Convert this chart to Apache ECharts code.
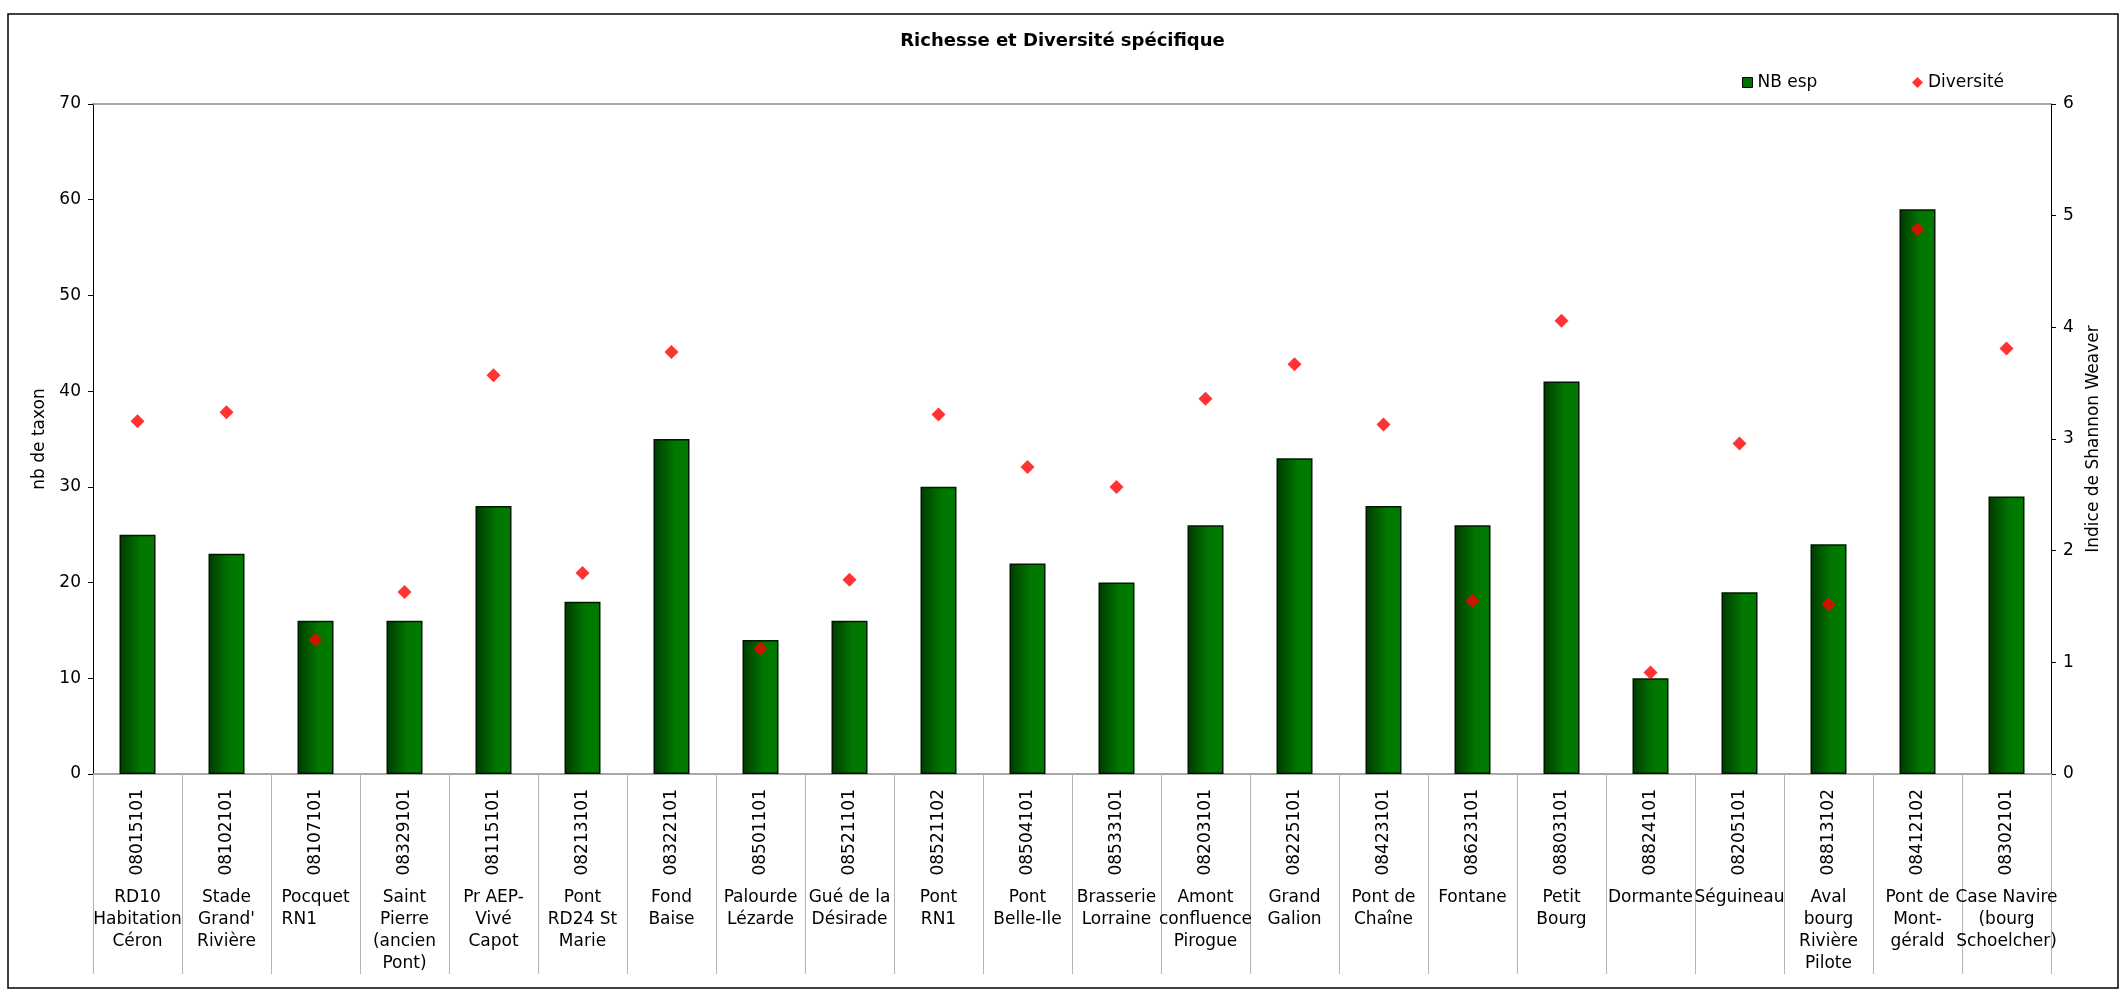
<!DOCTYPE html>
<html>
<head>
<meta charset="utf-8">
<title>Richesse et Diversité spécifique</title>
<script src="https://cdn.jsdelivr.net/npm/echarts@6/dist/echarts.min.js"></script>
<style>
  html, body { margin: 0; padding: 0; background: #fff; }
  #chart { width: 2125px; height: 990px; }
</style>
</head>
<body>
<div id="chart"></div>
<script>
// Station codes (first label row, rotated)
const stationCodes = [
  '08015101', '08102101', '08107101', '08329101', '08115101', '08213101',
  '08322101', '08501101', '08521101', '08521102', '08504101', '08533101',
  '08203101', '08225101', '08423101', '08623101', '08803101', '08824101',
  '08205101', '08813102', '08412102', '08302101'
];

// Station names (second label row, wrapped as printed)
const stationNames = [
  'RD10\nHabitation\nCéron', 'Stade\nGrand\'\nRivière', 'Pocquet\nRN1      ',
  'Saint\nPierre\n(ancien\nPont)', 'Pr AEP-\nVivé\nCapot', 'Pont\nRD24 St\nMarie',
  'Fond\nBaise', 'Palourde\nLézarde', 'Gué de la\nDésirade', 'Pont\nRN1',
  'Pont\nBelle-Ile', 'Brasserie\nLorraine', 'Amont\nconfluence\nPirogue',
  'Grand\nGalion', 'Pont de\nChaîne', 'Fontane', 'Petit\nBourg', 'Dormante',
  'Séguineau', 'Aval\nbourg\nRivière\nPilote', 'Pont de\nMont-\ngérald',
  'Case Navire\n(bourg\nSchoelcher)'
];

// Number of taxa per station
const nbEsp = [25, 23, 16, 16, 28, 18, 35, 14, 16, 30, 22, 20, 26, 33, 28, 26, 41, 10, 19, 24, 59, 29];

// Shannon-Weaver diversity index per station
const diversite = [3.16, 3.24, 1.20, 1.63, 3.57, 1.80, 3.78, 1.12, 1.74, 3.22, 2.75, 2.57,
                   3.36, 3.67, 3.13, 1.55, 4.06, 0.91, 2.96, 1.52, 4.88, 3.81];

const FONT = 'DejaVu Sans';

const chart = echarts.init(document.getElementById('chart'), null, { renderer: 'canvas' });

const barFill = new echarts.graphic.LinearGradient(0, 0, 1, 0, [
  { offset: 0, color: '#003a00' },
  { offset: 0.6, color: '#007800' },
  { offset: 1, color: '#007a00' }
]);

chart.setOption({
  backgroundColor: '#ffffff',
  animation: false,
  textStyle: { fontFamily: FONT, color: '#000' },
  title: {
    text: 'Richesse et Diversité spécifique',
    left: 'center',
    top: 27,
    textStyle: { fontFamily: FONT, fontSize: 18, fontWeight: 'bold', color: '#000' }
  },
  legend: [
    {
      data: [{ name: 'NB esp', icon: 'rect', itemStyle: { color: '#007000', borderColor: '#000', borderWidth: 1 } }],
      left: 1737, top: 69,
      itemWidth: 10, itemHeight: 10,
      textStyle: { fontFamily: FONT, fontSize: 17, color: '#000' }
    },
    {
      data: [{ name: 'Diversité', icon: 'diamond' }],
      left: 1907, top: 69,
      itemWidth: 11, itemHeight: 11,
      textStyle: { fontFamily: FONT, fontSize: 17, color: '#000' }
    }
  ],
  grid: { left: 93, right: 74, top: 104, bottom: 216, containLabel: false },
  xAxis: [
    {
      type: 'category',
      data: stationCodes,
      position: 'bottom',
      boundaryGap: true,
      axisLine: { show: true, lineStyle: { color: '#8c8c8c', width: 1.5 } },
      axisTick: { show: true, interval: 0, length: 200, lineStyle: { color: '#b4b4b4', width: 1 } },
      axisLabel: { interval: 0, rotate: 90, margin: 15, fontFamily: FONT, fontSize: 17, color: '#000' }
    },
    {
      type: 'category',
      data: stationNames,
      position: 'bottom',
      boundaryGap: true,
      axisLine: { show: false },
      axisTick: { show: false },
      axisLabel: {
        interval: 0, margin: 113, fontFamily: FONT, fontSize: 17, lineHeight: 22,
        color: '#000', align: 'center', verticalAlign: 'top'
      }
    },
    {
      type: 'category',
      data: stationCodes,
      position: 'top',
      axisLine: { show: true, lineStyle: { color: '#8c8c8c', width: 1.5 } },
      axisTick: { show: false },
      axisLabel: { show: false }
    }
  ],
  yAxis: [
    {
      type: 'value',
      min: 0, max: 70, interval: 10,
      position: 'left',
      name: 'nb de taxon',
      nameLocation: 'middle',
      nameRotate: 90,
      nameGap: 45,
      nameTextStyle: { fontFamily: FONT, fontSize: 17, color: '#000' },
      axisLine: { show: true, lineStyle: { color: '#000', width: 1 } },
      axisTick: { show: true, length: 5, lineStyle: { color: '#000' } },
      axisLabel: { margin: 12, fontFamily: FONT, fontSize: 17, color: '#000' },
      splitLine: { show: false }
    },
    {
      type: 'value',
      min: 0, max: 6, interval: 1,
      position: 'right',
      name: 'Indice de Shannon Weaver',
      nameLocation: 'middle',
      nameRotate: 90,
      nameGap: 34,
      nameTextStyle: { fontFamily: FONT, fontSize: 17, color: '#000' },
      axisLine: { show: true, lineStyle: { color: '#000', width: 1 } },
      axisTick: { show: true, length: 5, lineStyle: { color: '#000' } },
      axisLabel: { margin: 12, fontFamily: FONT, fontSize: 17, color: '#000' },
      splitLine: { show: false }
    }
  ],
  series: [
    {
      name: 'NB esp',
      type: 'bar',
      xAxisIndex: 0,
      yAxisIndex: 0,
      data: nbEsp,
      barWidth: 36,
      itemStyle: { color: barFill, borderColor: '#001800', borderWidth: 1.5 },
      z: 2
    },
    {
      name: 'Diversité',
      type: 'scatter',
      xAxisIndex: 0,
      yAxisIndex: 1,
      data: diversite,
      symbol: 'diamond',
      symbolSize: 14,
      itemStyle: { color: '#ff0000' },
      z: 5
    }
  ],
  graphic: [
    {
      type: 'rect',
      shape: { x: 8, y: 14, width: 2110, height: 974 },
      style: { fill: 'none', stroke: '#000', lineWidth: 1.5 },
      silent: true,
      z: 100
    }
  ]
});
</script>
</body>
</html>
